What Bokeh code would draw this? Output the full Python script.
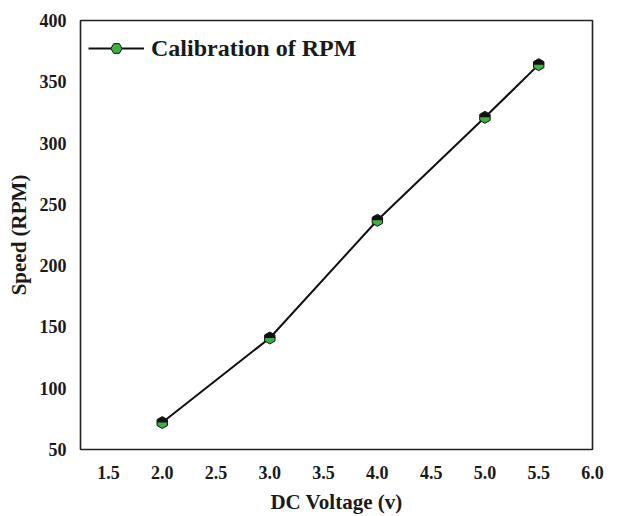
from bokeh.plotting import figure
from bokeh.models import Range1d, FixedTicker, Legend, LegendItem, ColumnDataSource
from bokeh.embed import file_html
from bokeh.resources import INLINE
import math

voltage = [2.0, 3.0, 4.0, 5.0, 5.5]
speed = [72, 141, 237, 321, 364]
x_ticks = [1.5, 2.0, 2.5, 3.0, 3.5, 4.0, 4.5, 5.0, 5.5, 6.0]
y_ticks = [50, 100, 150, 200, 250, 300, 350, 400]

src = ColumnDataSource(dict(x=voltage, y=speed))

p = figure(width=620, height=516, output_backend="svg", toolbar_location=None,
           x_range=Range1d(1.24, 6.0), y_range=Range1d(50, 400),
           min_border_left=80, min_border_right=28, min_border_top=20, min_border_bottom=66)
p.xgrid.visible = False
p.ygrid.visible = False
p.outline_line_color = "#222222"
p.outline_line_width = 1.6
p.background_fill_color = "white"
p.border_fill_color = "white"

font = "Liberation Serif"
for ax in (p.xaxis[0], p.yaxis[0]):
    ax.axis_line_color = None
    ax.major_tick_line_color = None
    ax.minor_tick_line_color = None
    ax.major_tick_out = 0
    ax.major_tick_in = 0
    ax.major_label_text_font = font
    ax.major_label_text_font_style = "bold"
    ax.major_label_text_font_size = "18px"
    ax.major_label_text_color = "#1a1a1a"
    ax.axis_label_text_font = font
    ax.axis_label_text_font_style = "bold"
    ax.axis_label_text_font_size = "21px"
    ax.axis_label_text_color = "#1a1a1a"

p.xaxis.ticker = FixedTicker(ticks=x_ticks)
p.yaxis.ticker = FixedTicker(ticks=y_ticks)
p.xaxis.major_label_overrides = {t: f"{t:.1f}" for t in x_ticks}
p.xaxis.axis_label = "DC Voltage (v)"
p.yaxis.axis_label = "Speed (RPM)"
p.xaxis.major_label_standoff = 16
p.yaxis.major_label_standoff = 14
p.xaxis.axis_label_standoff = 8
p.yaxis.axis_label_standoff = 6

line = p.line("x", "y", source=src, line_color="#111111", line_width=2)
hexr = p.scatter("x", "y", source=src, marker="hex", size=12, angle=math.pi / 6,
                 fill_color="#3cb043", line_color=None)
p.wedge("x", "y", source=src, radius=5.4, radius_units="screen",
        start_angle=0, end_angle=math.pi, fill_color="#111111", line_color=None)
hexo = p.scatter("x", "y", source=src, marker="hex", size=12, angle=math.pi / 6,
                 fill_color=None, line_color="#111111", line_width=1)

legend = Legend(items=[LegendItem(label="Calibration of RPM", renderers=[line, hexr, hexo])],
                location=(8, 387), label_text_font=font, label_text_font_style="bold",
                label_text_font_size="24px", label_text_color="#1a1a1a",
                border_line_color=None, background_fill_alpha=0,
                glyph_width=56, glyph_height=28, label_standoff=7, padding=4, margin=0)
p.add_layout(legend, "center")

open("out.html", "w").write(file_html(p, INLINE))
